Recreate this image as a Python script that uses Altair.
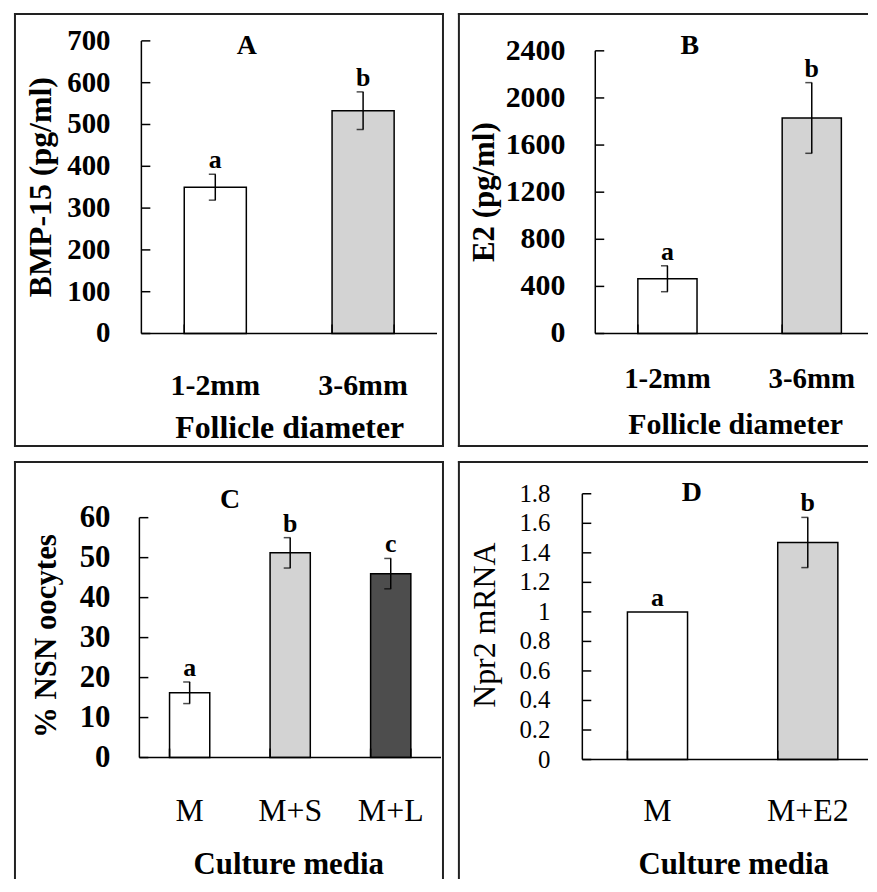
import altair as alt
import pandas as pd

FONT = "Liberation Serif"

# ---------------- data ----------------
a_cats = ["1-2mm", "3-6mm"]
a_vals = [350, 533]
a_errs = [31, 45]
a_sig = ["a", "b"]
a_ticks = [0, 100, 200, 300, 400, 500, 600, 700]

b_cats = ["1-2mm", "3-6mm"]
b_vals = [465, 1830]
b_errs = [110, 300]
b_sig = ["a", "b"]
b_ticks = [0, 400, 800, 1200, 1600, 2000, 2400]

c_cats = ["M", "M+S", "M+L"]
c_vals = [16.2, 51.2, 46.0]
c_errs = [2.7, 3.8, 3.8]
c_sig = ["a", "b", "c"]
c_ticks = [0, 10, 20, 30, 40, 50, 60]

d_cats = ["M", "M+E2"]
d_vals = [1.0, 1.47]
d_errs = [0.0, 0.17]
d_sig = ["a", "b"]
d_ticks = [0, 0.2, 0.4, 0.6, 0.8, 1, 1.2, 1.4, 1.6, 1.8]

WHITE, LIGHT, DARK = "#ffffff", "#d3d3d3", "#4d4d4d"
INK = "black"


def one_row():
    return pd.DataFrame({"k": [0]})


def panel(cats, vals, errs, sig, ticks, fills, letter, ylab, xlab, g):
    W, H = g["W"], g["H"]
    ax_x, ax_y = g["ax_x"], g["ax_y"]
    df = pd.DataFrame({"cat": cats, "val": vals, "err": errs, "sig": sig})
    df["lo"] = df["val"] - df["err"]
    df["hi"] = df["val"] + df["err"]
    edf = df[df["err"] > 0]

    xscale = alt.Scale(domain=cats, range=[ax_x, g["x_end"]],
                       paddingInner=g["pin"], paddingOuter=g["pin"] / 2)
    yscale = alt.Scale(domain=[0, ticks[-1]], range=[ax_y, g["y_top"]], nice=False, zero=True)

    def X(f="cat:N", **kw):
        return alt.X(f, scale=xscale, sort=cats, axis=None, **kw)

    def Y(f):
        return alt.Y(f, scale=yscale, axis=None)

    layers = []
    # bars
    layers.append(alt.Chart(df).mark_bar(stroke=INK, strokeWidth=1.5).encode(
        x=X(), y=Y("val:Q"),
        color=alt.Color("cat:N", scale=alt.Scale(domain=cats, range=fills), legend=None),
    ))
    # error bars with caps
    layers.append(alt.Chart(edf).mark_rule(color=INK, strokeWidth=1.5).encode(
        x=X(), y=Y("lo:Q"), y2="hi:Q"))
    for f in ("hi:Q", "lo:Q"):
        layers.append(alt.Chart(edf).mark_tick(color=INK, thickness=1.5, size=7, xOffset=-3).encode(
            x=X(), y=Y(f)))
    # significance letters
    layers.append(alt.Chart(df).mark_text(font=FONT, fontSize=26, fontWeight="bold",
                                          baseline="alphabetic", dy=-6, color=INK).encode(
        x=X(), y=Y("hi:Q"), text="sig:N"))

    # y axis: line, inward ticks, labels
    tdf = pd.DataFrame({"t": ticks})
    ydom = pd.DataFrame({"a": [ticks[0]], "b": [ticks[-1]]})
    layers.append(alt.Chart(ydom).mark_rule(color=INK, strokeWidth=1.5).encode(
        x=alt.value(ax_x), y=Y("a:Q"), y2="b:Q"))
    layers.append(alt.Chart(tdf).mark_rule(color=INK, strokeWidth=1.5).encode(
        y=Y("t:Q"), x=alt.value(ax_x), x2=alt.value(ax_x + 9)))
    layers.append(alt.Chart(tdf).mark_text(font=FONT, fontSize=g["yl_fs"], fontWeight=g["yl_fw"],
                                           align="right", baseline="middle", color=INK).encode(
        y=Y("t:Q"), x=alt.value(ax_x - g["ylp"]), text=alt.Text("t:Q", format="~g")))
    # y title
    layers.append(alt.Chart(one_row()).mark_text(font=FONT, fontSize=g["yt_fs"], fontWeight=g["yt_fw"],
                                                 angle=270, align="center", baseline="middle",
                                                 color=INK).encode(
        x=alt.value(g["yt_x"]), y=alt.value(g["yt_y"]), text=alt.value(ylab)))

    # x axis: line, inward ticks at band edges, labels, title
    layers.append(alt.Chart(one_row()).mark_rule(color=INK, strokeWidth=1.5).encode(
        x=alt.value(ax_x), x2=alt.value(g["x_line_end"]), y=alt.value(ax_y)))
    layers.append(alt.Chart(df).mark_rule(color=INK, strokeWidth=1.5).encode(
        x=X("cat:N", bandPosition=0), y=alt.value(ax_y - 9), y2=alt.value(ax_y)))
    if g["end_tick"]:
        layers.append(alt.Chart(df.iloc[[-1]]).mark_rule(color=INK, strokeWidth=1.5).encode(
            x=X("cat:N", bandPosition=1), y=alt.value(ax_y - 9), y2=alt.value(ax_y)))
    layers.append(alt.Chart(df).mark_text(font=FONT, fontSize=g["xl_fs"], fontWeight=g["xl_fw"],
                                          align="center", baseline="alphabetic", color=INK).encode(
        x=X(), y=alt.value(g["xl_y"]), text="cat:N"))
    layers.append(alt.Chart(one_row()).mark_text(font=FONT, fontSize=g["xt_fs"], fontWeight="bold",
                                                 align="center", baseline="alphabetic",
                                                 color=INK).encode(
        x=alt.value(g["xt_x"]), y=alt.value(g["xt_y"]), text=alt.value(xlab)))

    # panel letter
    layers.append(alt.Chart(one_row()).mark_text(font=FONT, fontSize=28, fontWeight="bold",
                                                 baseline="middle", color=INK).encode(
        x=alt.value(g["lt"][0]), y=alt.value(g["lt"][1]), text=alt.value(letter)))

    # frame lines (visible sides only)
    fr = dict(color="#222222", strokeWidth=2)
    sides = g["sides"]
    if "left" in sides:
        layers.append(alt.Chart(one_row()).mark_rule(**fr).encode(
            x=alt.value(1), y=alt.value(0), y2=alt.value(H)))
    if "top" in sides:
        layers.append(alt.Chart(one_row()).mark_rule(**fr).encode(
            x=alt.value(0), x2=alt.value(W), y=alt.value(1)))
    if "right" in sides:
        layers.append(alt.Chart(one_row()).mark_rule(**fr).encode(
            x=alt.value(W - 1), y=alt.value(0), y2=alt.value(H)))
    if "bottom" in sides:
        layers.append(alt.Chart(one_row()).mark_rule(**fr).encode(
            x=alt.value(0), x2=alt.value(W), y=alt.value(H - 1)))

    return alt.layer(*layers).properties(width=W, height=H)


gA = dict(W=432, H=436, ax_x=128, ax_y=322, y_top=28, x_end=425, x_line_end=425, pin=0.58,
          ylp=31, yl_fs=29, yl_fw="bold", yt_fs=32, yt_fw="bold", yt_x=27, yt_y=175,
          xl_y=384, xl_fs=30, xl_fw="bold", xt_fs=32, xt_x=277, xt_y=427,
          lt=(234, 33), end_tick=True, sides=["left", "top", "right", "bottom"])
gB = dict(W=412, H=436, ax_x=138, ax_y=322, y_top=38, x_end=428, x_line_end=412, pin=0.59,
          ylp=30, yl_fs=30, yl_fw="bold", yt_fs=31, yt_fw="bold", yt_x=27, yt_y=180,
          xl_y=377, xl_fs=29, xl_fw="bold", xt_fs=30, xt_x=279, xt_y=423,
          lt=(233, 33), end_tick=False, sides=["left", "top", "bottom"])
gC = dict(W=432, H=420, ax_x=126, ax_y=298, y_top=57, x_end=429, x_line_end=429, pin=0.6,
          ylp=29, yl_fs=31, yl_fw="bold", yt_fs=31, yt_fw="bold", yt_x=33, yt_y=176,
          xl_y=362, xl_fs=32, xl_fw="normal", xt_fs=31, xt_x=276, xt_y=415,
          lt=(217, 39), end_tick=True, sides=["left", "top", "right"])
gD = dict(W=412, H=420, ax_x=125, ax_y=300, y_top=33, x_end=427, x_line_end=412, pin=0.6,
          ylp=32, yl_fs=25, yl_fw="normal", yt_fs=32, yt_fw="normal", yt_x=27, yt_y=165,
          xl_y=362, xl_fs=32, xl_fw="normal", xt_fs=31, xt_x=277, xt_y=415,
          lt=(235, 32), end_tick=False, sides=["left", "top"])

pA = panel(a_cats, a_vals, a_errs, a_sig, a_ticks, [WHITE, LIGHT], "A",
           "BMP-15 (pg/ml)", "Follicle diameter", gA)
pB = panel(b_cats, b_vals, b_errs, b_sig, b_ticks, [WHITE, LIGHT], "B",
           "E2 (pg/ml)", "Follicle diameter", gB)
pC = panel(c_cats, c_vals, c_errs, c_sig, c_ticks, [WHITE, LIGHT, DARK], "C",
           "% NSN oocytes", "Culture media", gC)
pD = panel(d_cats, d_vals, d_errs, d_sig, d_ticks, [WHITE, LIGHT], "D",
           "Npr2 mRNA", "Culture media", gD)

row1 = alt.hconcat(pA, pB, spacing=12).resolve_scale(color="independent")
row2 = alt.hconcat(pC, pD, spacing=12).resolve_scale(color="independent")
chart = alt.vconcat(row1, row2, spacing=12).resolve_scale(color="independent").properties(
    padding={"left": 5, "top": 2, "right": 0, "bottom": 0},
    background="white",
).configure_view(strokeWidth=0)

chart.save("out.html", embed_options={"renderer": "svg", "actions": False})
